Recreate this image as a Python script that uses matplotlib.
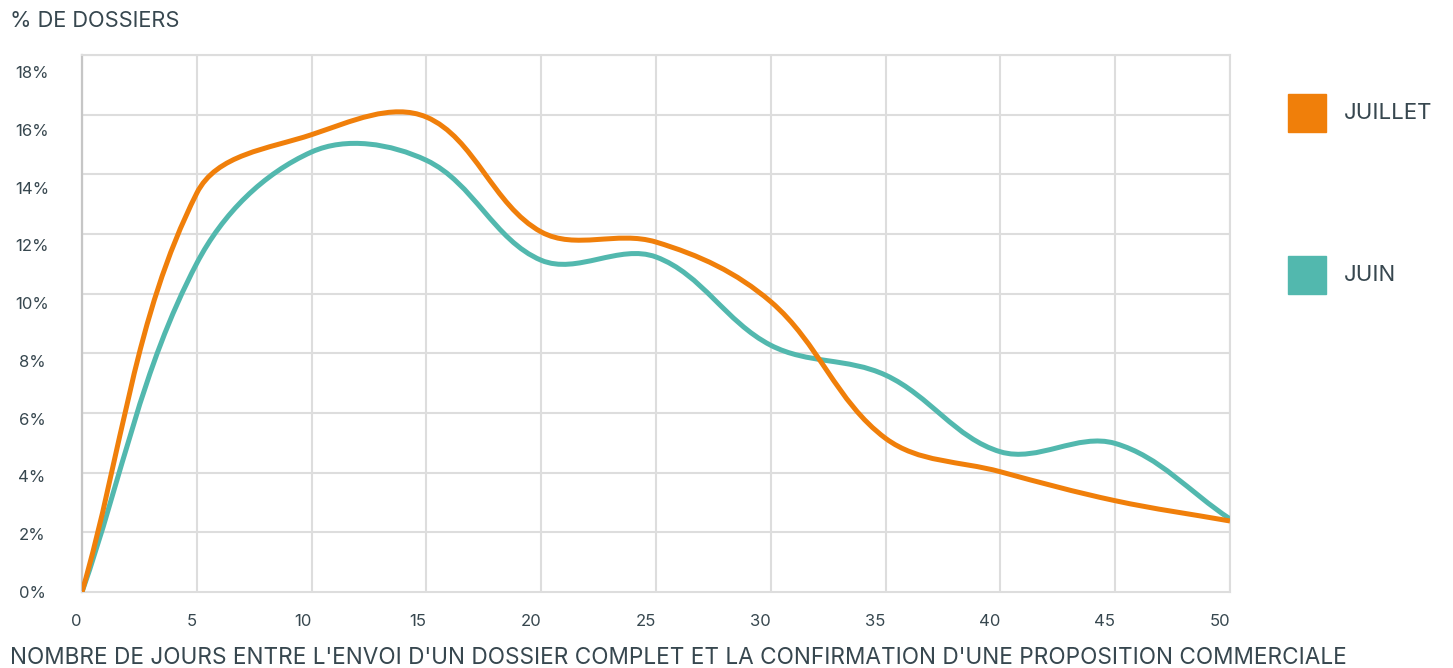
import matplotlib
matplotlib.use("Agg")
import numpy as np
import matplotlib.pyplot as plt
from matplotlib.path import Path
from matplotlib.patches import PathPatch, Rectangle

# data
jours = [0, 5, 10, 15, 20, 25, 30, 35, 40, 45, 50]
juillet = [0, 13.37, 15.33, 15.92, 12.07, 11.73, 9.73, 5.15, 4.03, 3.06, 2.38]
juin = [0, 11.02, 14.75, 14.47, 11.12, 11.23, 8.27, 7.27, 4.70, 4.98, 2.45]
y_ticks = [0, 2, 4, 6, 8, 10, 12, 14, 16, 18]
x_ticks = [0, 5, 10, 15, 20, 25, 30, 35, 40, 45, 50]

ORANGE = "#F07F0A"
TEAL = "#52B8AE"
TEXT = "#37474F"
GRID = "#DDDDDD"

plt.rcParams["font.family"] = ["Inter", "DejaVu Sans"]


def smooth_path(ax, xs, ys, tension=0.36):
    """Tension spline (chart.js style, weighted by pixel distance)."""
    pix = ax.transData.transform(np.column_stack([xs, ys]))
    n = len(pix)
    prev_cp, next_cp = [], []
    for i in range(n):
        p0 = pix[max(i - 1, 0)]
        p1 = pix[i]
        p2 = pix[min(i + 1, n - 1)]
        d01 = np.hypot(*(p1 - p0))
        d12 = np.hypot(*(p2 - p1))
        tot = d01 + d12
        s01 = d01 / tot if tot else 0
        s12 = d12 / tot if tot else 0
        prev_cp.append(p1 - tension * s01 * (p2 - p0))
        next_cp.append(p1 + tension * s12 * (p2 - p0))
    verts = [pix[0]]
    codes = [Path.MOVETO]
    for i in range(n - 1):
        verts += [next_cp[i], prev_cp[i + 1], pix[i + 1]]
        codes += [Path.CURVE4] * 3
    data = ax.transData.inverted().transform(np.array(verts))
    return Path(data, codes)


fig = plt.figure(figsize=(14.53, 6.68), dpi=100)
ax = fig.add_axes([82 / 1453, 1 - 592 / 668, (1230 - 82) / 1453, (592 - 55) / 668])
ax.set_xlim(0, 50)
ax.set_ylim(0, 18)

for ys, col in [(juin, TEAL), (juillet, ORANGE)]:
    ax.add_patch(PathPatch(smooth_path(ax, jours, ys), fill=False, edgecolor=col,
                           lw=3.6, capstyle="butt", joinstyle="round", zorder=3))

# gridlines sit on the true values, labels are spread a little tighter
ax.set_yticks(y_ticks, minor=True)
ax.set_yticks([v * 520 / 537 for v in y_ticks])
ax.set_yticklabels([f"{v}%" for v in y_ticks])
ax.set_xticks(x_ticks)
ax.set_xticklabels([str(v) for v in x_ticks])
ax.grid(False)
ax.grid(True, which="minor", axis="y", color=GRID, lw=1.5)
ax.grid(True, which="major", axis="x", color=GRID, lw=1.5)

ax.tick_params(axis="both", which="both", length=0)
ax.tick_params(axis="y", pad=36, labelsize=12, labelcolor=TEXT)
ax.tick_params(axis="x", pad=16, labelsize=12, labelcolor=TEXT)
for lab in ax.get_yticklabels():
    lab.set_ha("center")
for lab in ax.get_xticklabels():
    lab.set_ha("right")

ax.spines["left"].set_color("#C6C6C6")
ax.spines["left"].set_linewidth(1.6)
for s in ["top", "right", "bottom"]:
    ax.spines[s].set_color(GRID)
    ax.spines[s].set_linewidth(1.5)

fig.text(10 / 1453, 1 - 21 / 668, "% DE DOSSIERS", color=TEXT, fontsize=15.7,
         ha="left", va="center")
fig.text(10 / 1453, 1 - 658 / 668,
         "NOMBRE DE JOURS ENTRE L'ENVOI D'UN DOSSIER COMPLET ET LA CONFIRMATION D'UNE PROPOSITION COMMERCIALE",
         color=TEXT, fontsize=16.25, ha="left", va="center")

# legend
for label, col, yc in [("JUILLET", ORANGE, 113), ("JUIN", TEAL, 275)]:
    fig.add_artist(Rectangle((1288 / 1453, 1 - (yc + 19) / 668), 38 / 1453, 38 / 668,
                             transform=fig.transFigure, color=col))
    fig.text(1344 / 1453, 1 - yc / 668, label, color=TEXT, fontsize=16,
             ha="left", va="center")

fig.savefig("out.png", dpi=100)
